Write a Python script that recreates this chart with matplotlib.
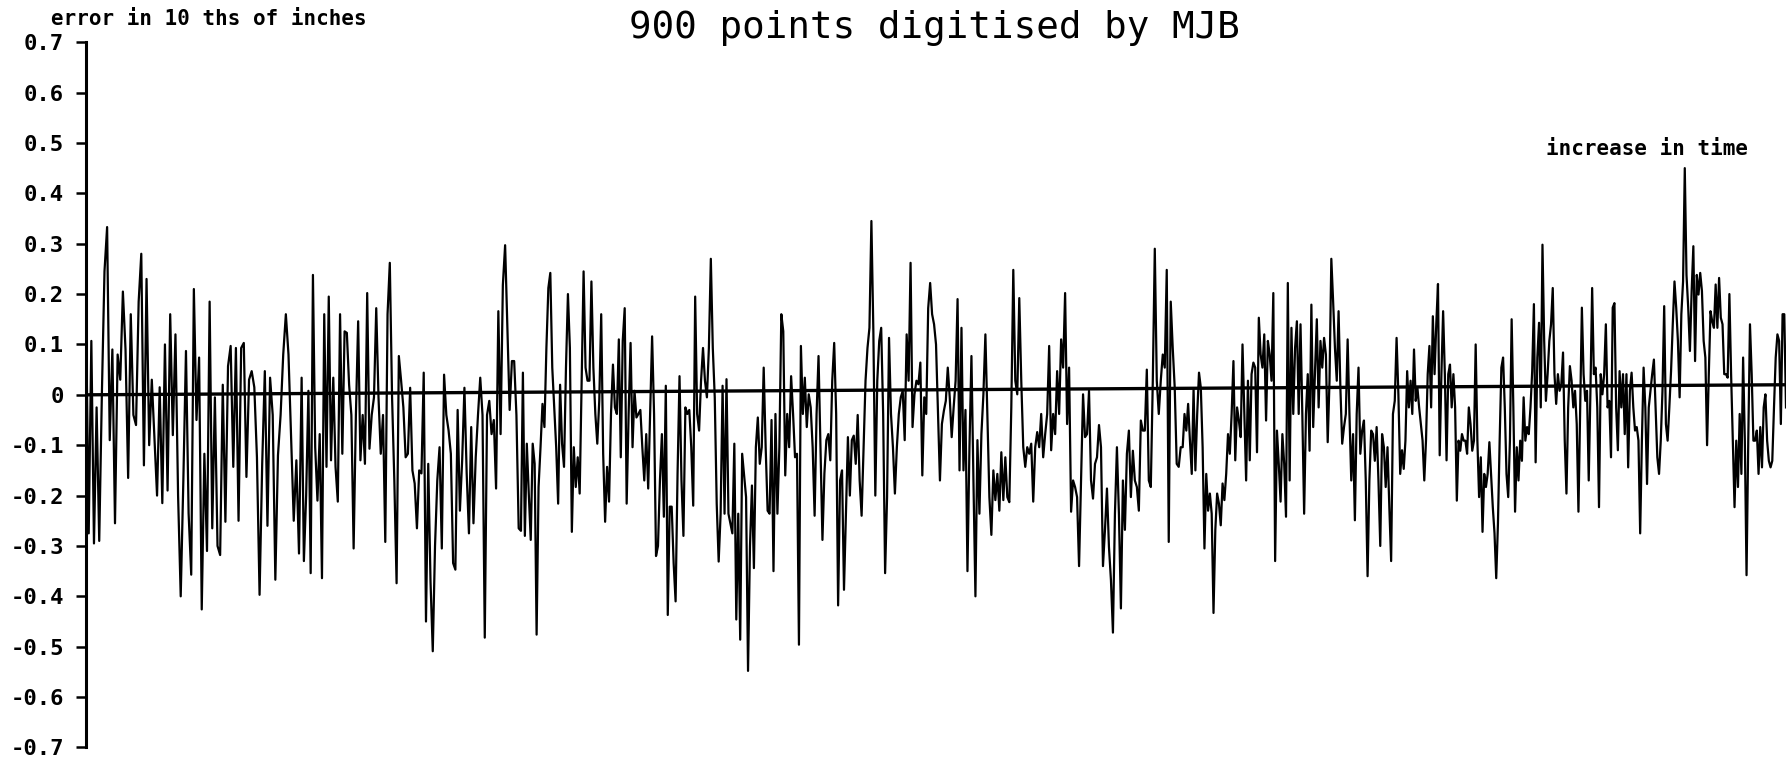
import numpy as np
import matplotlib.pyplot as plt

# error trace in eight consecutive stretches (left to right)
seg_1 = [0.15, -0.275, 0.107, -0.295, -0.025, -0.29, 0.0, 0.245, 0.333, -0.09, 0.09, -0.255, 0.08, 0.03,
         0.205, 0.09, -0.165, 0.16, -0.04, -0.06, 0.185, 0.28, -0.14, 0.23, -0.10, 0.03, -0.085, -0.2, 0.015,
         -0.215, 0.1, -0.19, 0.16, -0.08, 0.12, -0.2, -0.4, -0.17, 0.087, -0.235, -0.357, 0.21, -0.05, 0.074,
         -0.426, -0.117, -0.31, 0.185, -0.265, -0.005, -0.3, -0.318, 0.02, -0.252, 0.057, 0.097, -0.143, 0.093,
         -0.25, 0.093, 0.103, -0.163, 0.03, 0.047, 0.015, -0.124, -0.397, -0.137, 0.047, -0.26, 0.034, -0.04,
         -0.367, -0.12, -0.04, 0.08, 0.16, 0.08, -0.085, -0.25, -0.13, -0.315]
seg_2 = [0.034, -0.33, -0.2, 0.008, -0.354, 0.238, -0.104, -0.21, -0.078, -0.364, 0.16, -0.143, 0.195, -0.13,
         0.034, -0.143, -0.212, 0.16, -0.117, 0.126, 0.123, 0.02, -0.04, -0.305, -0.04, 0.146, -0.13, -0.04,
         -0.137, 0.202, -0.107, -0.04, -0.005, 0.172, -0.005, -0.117, -0.04, -0.292, 0.16, 0.262, -0.005, -0.17,
         -0.374, 0.077, 0.028, -0.025, -0.124, -0.117, 0.014, -0.15, -0.176, -0.265, -0.15, -0.156, 0.044, -0.45,
         -0.137, -0.37, -0.509, -0.3, -0.17, -0.104, -0.305, 0.04, -0.04, -0.071, -0.117, -0.334, -0.347, -0.03,
         -0.23, -0.13, 0.014, -0.156, -0.275, -0.064, -0.255, -0.124, -0.04, 0.034, -0.04, -0.482, -0.04, -0.012,
         -0.078, -0.05, -0.186, 0.166, -0.078, 0.218, 0.297, 0.133, -0.03, 0.067, 0.067, -0.04, -0.265]
seg_3 = [-0.27, 0.044, -0.28, -0.097, -0.196, -0.288, -0.097, -0.137, -0.476, -0.183, -0.104, -0.018, -0.064,
         0.093, 0.212, 0.242, 0.054, -0.025, -0.104, -0.216, 0.02, -0.097, -0.143, 0.054, 0.2, 0.093, -0.272,
         -0.104, -0.183, -0.124, -0.196, 0.028, 0.245, 0.054, 0.028, 0.028, 0.225, 0.054, -0.038, -0.097, -0.012,
         0.16, -0.117, -0.252, -0.143, -0.212, -0.038, 0.06, -0.025, -0.038, 0.11, -0.124, 0.107, 0.172, -0.216,
         -0.038, 0.103, -0.104, 0.008, -0.045, -0.038, -0.03, -0.104, -0.17, -0.078, -0.186, -0.038, 0.116,
         -0.038, -0.32, -0.3, -0.17, -0.078, -0.242, 0.018, -0.437, -0.222, -0.222, -0.334, -0.41, -0.156, 0.037,
         -0.17, -0.28, -0.025, -0.038, -0.03, -0.104, -0.22, 0.195, -0.038, -0.071, 0.028, 0.093, 0.028, -0.005,
         0.093, 0.27, 0.093, -0.005, -0.216, -0.331, -0.236, 0.018, -0.236, 0.031, -0.236, -0.255, -0.275,
         -0.097, -0.446, -0.236, -0.486]
seg_4 = [-0.117, -0.16, -0.203, -0.548, -0.3, -0.18, -0.344, -0.104, -0.045, -0.137, -0.104, 0.054, -0.104,
         -0.23, -0.236, -0.05, -0.35, -0.038, -0.236, -0.104, 0.16, 0.126, -0.16, -0.038, -0.104, 0.037, -0.038,
         -0.124, -0.117, -0.496, 0.097, -0.038, 0.034, -0.064, 0.001, -0.025, -0.104, -0.24, -0.038, 0.077,
         -0.104, -0.288, -0.156, -0.09, -0.078, -0.13, 0.028, 0.103, -0.038, -0.418, -0.17, -0.15, -0.387,
         -0.236, -0.084, -0.2, -0.09, -0.081, -0.137, -0.04, -0.17, -0.24, -0.104, 0.028, 0.093, 0.133, 0.345,
         0.126, -0.2, 0.028, 0.107, 0.133, -0.038, -0.354, -0.203, 0.113, -0.038, -0.104, -0.196, -0.104,
         -0.038, -0.005, 0.008, -0.09, 0.12, 0.028, 0.262, -0.064, 0.001, 0.028, 0.021, 0.064, -0.16, -0.005,
         -0.038, 0.172, 0.222, 0.16, 0.14, 0.1, -0.038, -0.17, -0.058, -0.032, -0.012, 0.054, -0.005, -0.084,
         -0.025, 0.028, 0.19, -0.15]
seg_5 = [0.133, -0.15, -0.03, -0.35, -0.104, 0.077, -0.17, -0.4, -0.09, -0.236, -0.078, 0.001, 0.12, -0.038,
         -0.203, -0.278, -0.15, -0.209, -0.157, -0.23, -0.114, -0.209, -0.124, -0.203, -0.213, -0.025, 0.248,
         0.028, 0.001, 0.192, 0.028, -0.104, -0.143, -0.104, -0.117, -0.097, -0.212, -0.104, -0.074, -0.104,
         -0.038, -0.124, -0.078, -0.038, 0.097, -0.11, -0.038, -0.078, 0.047, -0.038, 0.11, 0.054, 0.202,
         -0.058, 0.054, -0.232, -0.17, -0.183, -0.203, -0.34, -0.17, 0.001, -0.084, -0.078, 0.008, -0.17,
         -0.206, -0.137, -0.124, -0.06, -0.104, -0.34, -0.268, -0.186, -0.302, -0.368, -0.472, -0.236, -0.104,
         -0.236, -0.424, -0.17, -0.268, -0.117, -0.071, -0.203, -0.111, -0.17, -0.183, -0.23, -0.051, -0.071,
         -0.071, 0.05, -0.17, -0.183, 0.028, 0.29, 0.028, -0.038, 0.028, 0.08, 0.054, 0.248, -0.292, 0.185,
         0.093, 0.014, -0.137, -0.143, -0.104]
seg_6 = [-0.104, -0.038, -0.071, -0.018, -0.091, -0.157, 0.011, -0.15, -0.038, 0.044, 0.014, -0.104, -0.305,
         -0.157, -0.23, -0.196, -0.236, -0.433, -0.268, -0.196, -0.216, -0.259, -0.176, -0.209, -0.157, -0.078,
         -0.117, -0.038, 0.067, -0.13, -0.025, -0.051, -0.084, 0.1, -0.038, -0.17, 0.028, -0.13, 0.041, 0.064,
         0.054, -0.114, 0.153, 0.08, 0.054, 0.12, -0.051, 0.107, 0.08, 0.028, 0.202, -0.33, -0.071, -0.137,
         -0.212, -0.078, -0.137, -0.242, 0.222, -0.17, 0.133, -0.038, 0.093, 0.146, -0.038, 0.14, -0.038,
         -0.236, -0.038, 0.041, -0.111, 0.179, -0.064, 0.047, 0.15, -0.025, 0.107, 0.054, 0.113, 0.08, -0.094,
         0.028, 0.27, 0.185, 0.093, 0.028, 0.166, 0.014, -0.097, -0.064, -0.038, 0.11, -0.038, -0.17, -0.078,
         -0.249, -0.038, 0.054, -0.117, -0.071, -0.051, -0.17, -0.36, -0.17, -0.071, -0.078, -0.131, -0.064,
         -0.17, -0.3, -0.078, -0.104, -0.183, -0.104, -0.223, -0.33, -0.038, -0.012, 0.113, 0.001, -0.157]
seg_7 = [-0.11, -0.147, -0.091, 0.047, -0.025, 0.028, -0.038, 0.09, -0.012, 0.014, -0.025, -0.058, -0.091,
         -0.17, -0.091, 0.041, 0.097, -0.025, 0.156, 0.041, 0.14, 0.22, -0.12, 0.041, 0.166, 0.041, -0.13,
         0.041, 0.06, -0.025, 0.041, -0.025, -0.21, -0.091, -0.111, -0.078, -0.091, -0.091, -0.117, -0.025,
         -0.058, -0.111, -0.091, 0.1, -0.091, -0.203, -0.124, -0.272, -0.157, -0.183, -0.157, -0.094, -0.157,
         -0.223, -0.275, -0.364, -0.256, -0.091, 0.054, 0.074, -0.025, -0.157, -0.203, -0.091, 0.15, -0.025,
         -0.232, -0.104, -0.17, -0.091, -0.131, -0.005, -0.091, -0.064, -0.078, -0.025, 0.047, 0.18, -0.134,
         0.074, 0.143, -0.025, 0.298, 0.107, -0.012, 0.041, 0.107, 0.14, 0.212, 0.041, -0.018, 0.041, 0.008,
         0.021, 0.084, -0.091, -0.196, -0.025, 0.057, 0.028, -0.025, 0.008, -0.058, -0.232, -0.025, 0.173,
         0.041, -0.012, 0.008, -0.17, 0.008, 0.212, 0.041, 0.054, -0.025, -0.223, 0.041]
seg_8 = [0.001, 0.041, 0.14, -0.025, -0.012, -0.124, 0.173, 0.182, -0.025, -0.11, 0.047, -0.025, 0.041, -0.078,
         0.041, -0.144, 0.008, 0.044, -0.025, -0.071, -0.064, -0.091, -0.275, -0.091, 0.054, -0.025, -0.177,
         -0.025, 0.008, 0.041, 0.07, -0.025, -0.124, -0.157, -0.091, 0.008, 0.176, -0.058, -0.091, -0.025,
         0.047, 0.14, 0.225, 0.173, 0.107, -0.005, 0.16, 0.225, 0.45, 0.238, 0.173, 0.087, 0.206, 0.295, 0.067,
         0.238, 0.199, 0.242, 0.206, 0.107, 0.074, -0.1, 0.041, 0.166, 0.146, 0.133, 0.219, 0.133, 0.232, 0.153,
         0.14, 0.041, 0.041, 0.034, 0.2, 0.041, -0.091, -0.223, -0.091, -0.183, -0.038, -0.157, 0.074, -0.091,
         -0.358, -0.091, 0.14, 0.041, -0.091, -0.091, -0.071, -0.157, -0.064, -0.144, -0.025, 0.001, -0.091,
         -0.131, -0.144, -0.131, -0.025, 0.074, 0.12, 0.107, -0.058, 0.16, 0.16, -0.025]

segments = [seg_1, seg_2, seg_3, seg_4, seg_5, seg_6, seg_7, seg_8]
# point number at which each stretch starts (900 points in all)
segment_starts = [0, 114, 230, 347, 463, 580, 696, 802, 900]

# fitted line through the errors (value at first and last point)
trend_points = [0, 900]
trend_values = [0.0, 0.02]

y_ticks = [0.7, 0.6, 0.5, 0.4, 0.3, 0.2, 0.1, 0.0, -0.1, -0.2, -0.3, -0.4, -0.5, -0.6, -0.7]
y_tick_labels = ["0.7", "0.6", "0.5", "0.4", "0.3", "0.2", "0.1", "0",
                 "-0.1", "-0.2", "-0.3", "-0.4", "-0.5", "-0.6", "-0.7"]

point_number = np.concatenate([
    np.linspace(segment_starts[i], segment_starts[i + 1], len(seg), endpoint=False)
    for i, seg in enumerate(segments)
])
error = np.concatenate(segments)

plotter_font = "DejaVu Sans Mono"

fig = plt.figure(figsize=(17.86, 7.6), dpi=100)
ax = fig.add_axes([0.0482, 0.0165, 0.9518, 0.928])

ax.plot(point_number, error, color="black", linewidth=1.6)
ax.plot(trend_points, trend_values, color="black", linewidth=2.4)

ax.set_xlim(0, point_number[-1])
ax.set_ylim(-0.7, 0.7)
ax.set_yticks(y_ticks)
ax.set_yticklabels(y_tick_labels, fontsize=16, family=plotter_font, fontweight="bold")
ax.set_xticks([])
ax.tick_params(axis="y", direction="out", length=7, width=1.8, pad=9)
for side in ["top", "right", "bottom"]:
    ax.spines[side].set_visible(False)
ax.spines["left"].set_linewidth(2.2)

fig.text(0.0285, 0.9745, "error in 10 ths of inches", fontsize=15, family=plotter_font,
         fontweight="bold", ha="left", va="center")
fig.text(0.523, 0.9625, "900 points digitised by MJB", fontsize=27, family=plotter_font,
         ha="center", va="center")

ax.text(0.918, 0.849, "increase in time", transform=ax.transAxes, fontsize=15,
        family=plotter_font, fontweight="bold", ha="center", va="center")

fig.savefig("out.png", dpi=100)
